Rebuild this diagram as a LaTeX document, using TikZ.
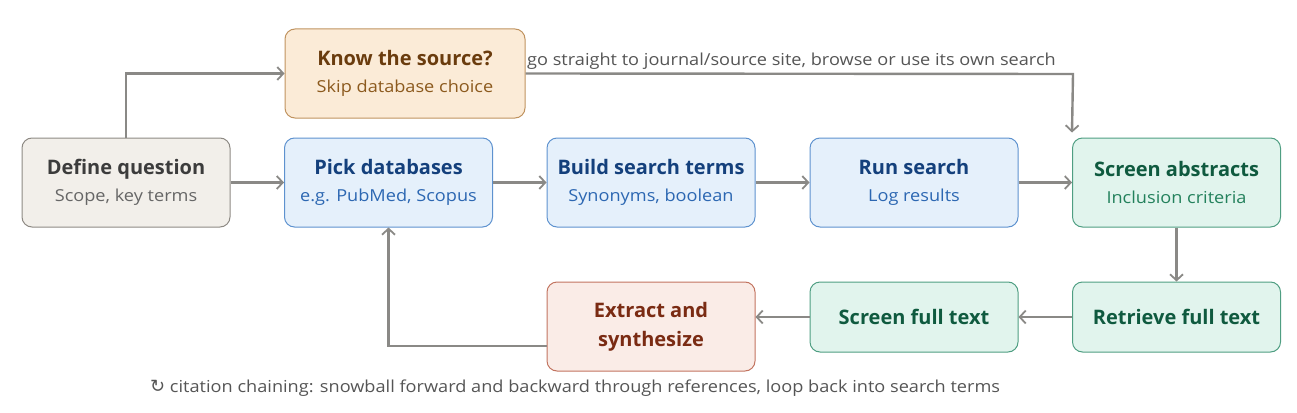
\documentclass[tikz,border=0pt]{standalone}
\usepackage{fontspec}
\setmainfont{Open Sans}
\newfontfamily\symfont{DejaVu Sans}
\newfontfamily\widefont[FakeStretch=1.1]{Open Sans}
\usetikzlibrary{arrows.meta}
\definecolor{arrcol}{HTML}{8A8986}
\definecolor{lblcol}{HTML}{555555}
\definecolor{gfill}{HTML}{F2EFEA}\definecolor{gdraw}{HTML}{8E8A84}\definecolor{gtit}{HTML}{3C3C3C}\definecolor{gsub}{HTML}{666666}
\definecolor{ofill}{HTML}{FBEBD7}\definecolor{odraw}{HTML}{C0935F}\definecolor{otit}{HTML}{6A3C0E}\definecolor{osub}{HTML}{8C5A1E}
\definecolor{bfill}{HTML}{E5F0FB}\definecolor{bdraw}{HTML}{5E92CF}\definecolor{btit}{HTML}{14407C}\definecolor{bsub}{HTML}{2C67B2}
\definecolor{efill}{HTML}{E1F4ED}\definecolor{edraw}{HTML}{4F9E82}\definecolor{etit}{HTML}{0F5A3F}\definecolor{esub}{HTML}{23815C}
\definecolor{rfill}{HTML}{FAECE7}\definecolor{rdraw}{HTML}{C27460}\definecolor{rtit}{HTML}{7A2B13}
\newcommand{\ttl}[1]{{\fontsize{20}{27}\selectfont\bfseries #1}}
\newcommand{\sbt}[2]{{\widefont\fontsize{16.5}{27}\selectfont\color{#1}#2}}
\begin{document}
\begin{tikzpicture}[x=1pt,y=-1pt,
  box/.style={draw, rounded corners=10pt, line width=1pt, minimum width=208pt, minimum height=89pt, align=center, inner sep=0pt, font=\fontsize{20}{27}\selectfont},
  gbox/.style={box, fill=gfill, draw=gdraw, text=gtit},
  obox/.style={box, fill=ofill, draw=odraw, text=otit, minimum width=240pt},
  bbox/.style={box, fill=bfill, draw=bdraw, text=btit},
  ebox/.style={box, fill=efill, draw=edraw, text=etit},
  rbox/.style={box, fill=rfill, draw=rdraw, text=rtit, font=\fontsize{20}{29}\selectfont},
  arr/.style={draw=arrcol, line width=2.4pt, -{Straight Barb[length=6pt,width=13pt,line width=1.8pt]}},
  lbl/.style={text=lblcol, font=\widefont\fontsize{16.5}{19}\selectfont, inner sep=0pt}]
\useasboundingbox (0,0) rectangle (1297,412);
\node[gbox] (def) at (126,182.5) {\ttl{Define question}\\\sbt{gsub}{Scope, key terms}};
\node[obox] (know) at (405,73.5) {\ttl{Know the source?}\\\sbt{osub}{Skip database choice}};
\node[bbox] (pick) at (388.5,182.5) {\ttl{Pick databases}\\\sbt{bsub}{e.g. PubMed, Scopus}};
\node[bbox] (build) at (651,182.5) {\ttl{Build search terms}\\\sbt{bsub}{Synonyms, boolean}};
\node[bbox] (run) at (914,182.5) {\ttl{Run search}\\\sbt{bsub}{Log results}};
\node[ebox] (sa) at (1176.5,182.5) {\ttl{Screen abstracts}\\\sbt{esub}{Inclusion criteria}};
\node[ebox, minimum height=70pt] (rft) at (1176.5,317) {\ttl{Retrieve full text}};
\node[ebox, minimum height=70pt] (sft) at (914,317) {\ttl{Screen full text}};
\node[rbox] (ext) at (651,326.5) {\ttl{Extract and}\\\ttl{synthesize}};
\coordinate (corner) at (1073,74);
\draw[arr] (def) -- (pick);
\draw[arr] (pick) -- (build);
\draw[arr] (build) -- (run);
\draw[arr] (run) -- (sa);
\draw[arr] (def.north) |- (know.west);
\draw[arr] (know.east) -- (corner) -- ([yshift=5pt]sa.north west);
\draw[arr] (sa) -- (rft);
\draw[arr] (rft) -- (sft);
\draw[arr] (sft.west) -- (sft.west -| ext.east);
\draw[arr] ([yshift=-19.5pt]ext.west) -| (pick.south);
\node[lbl, anchor=base west] (lt) at (527,65) {go straight to journal/source site, browse or use its own search};
\node[lbl, anchor=base west] (lb) at (150,392) {{\symfont\fontsize{18}{19}\selectfont ↻} citation chaining: snowball forward and backward through references, loop back into search terms};
\end{tikzpicture}
\end{document}
